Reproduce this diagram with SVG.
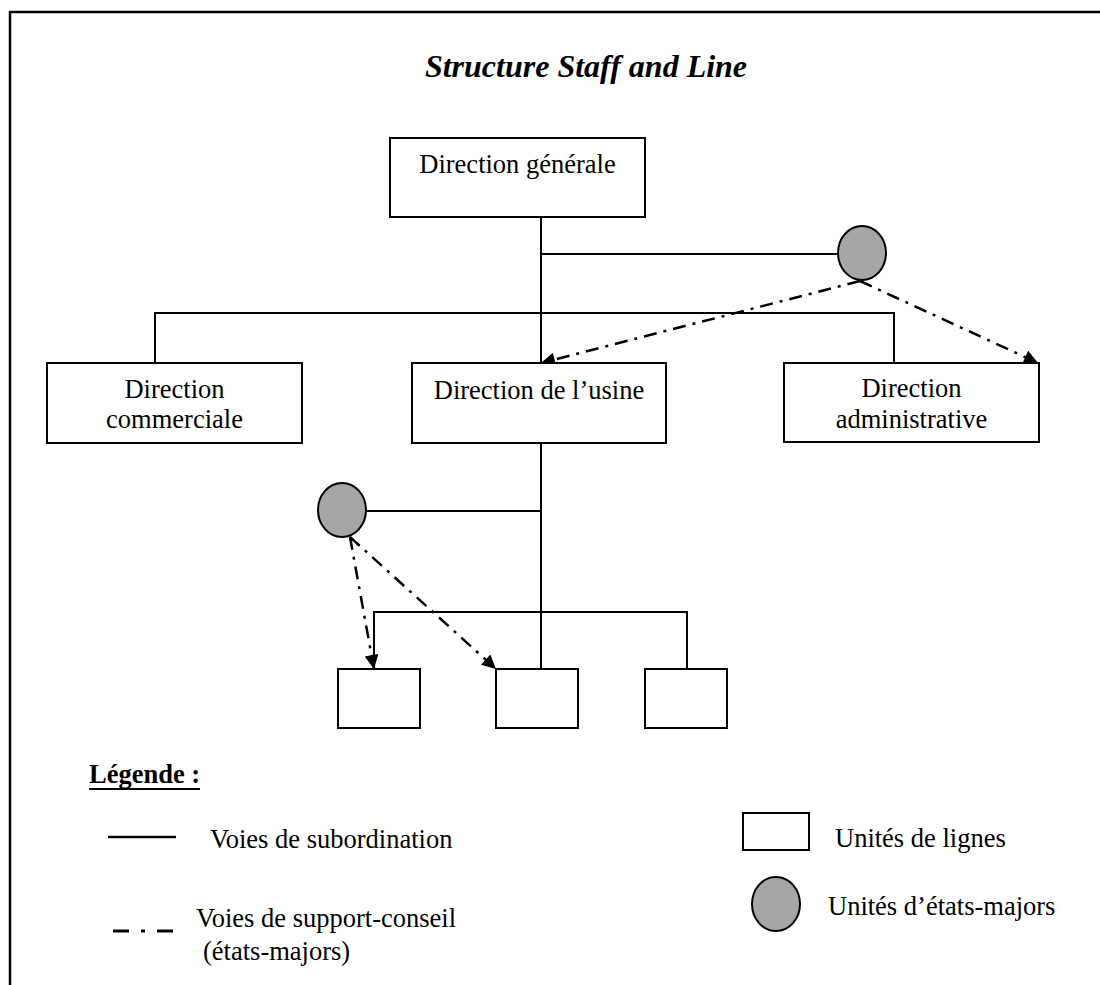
<svg xmlns="http://www.w3.org/2000/svg" width="1100" height="985" viewBox="0 0 1100 985">
<style>
.t{font-family:"Liberation Serif","Times New Roman",serif;font-size:26.5px;fill:#000}
.box{fill:#fff;stroke:#000;stroke-width:2}
.staff{fill:#a6a6a6;stroke:#000;stroke-width:2}
.sub{stroke:#000;stroke-width:2;fill:none}
.sup{stroke:#000;stroke-width:2.5;fill:none;stroke-dasharray:13 7 3 7}
</style>
<defs>
<marker id="ah" viewBox="0 0 10 10" refX="10" refY="5" markerWidth="18" markerHeight="14" markerUnits="userSpaceOnUse" orient="auto">
<path d="M0,0 L10,5 L0,10 z" fill="#000"/>
</marker>
</defs>
<rect width="1100" height="985" fill="#fff"/>
<g id="frame"><path d="M10,985 V12 H1100" fill="none" stroke="#000" stroke-width="2.5"/></g>
<text id="title" x="586" y="77" text-anchor="middle" class="t" style="font-weight:bold;font-style:italic;font-size:32px">Structure Staff and Line</text>
<g id="connectors">
<path class="sub" d="M541,217 V363"/>
<path class="sub" d="M541,254 H838"/>
<path class="sub" d="M155,363 V313 H894 V363"/>
<path class="sub" d="M541,443 V669"/>
<path class="sub" d="M366,511 H541"/>
<path class="sub" d="M374,669 V612 H687 V669"/>
<path class="sup" d="M860,281 L541,363" marker-end="url(#ah)"/>
<path class="sup" d="M860,281 L1038,363" marker-end="url(#ah)"/>
<path class="sup" d="M350,537 L374,669" marker-end="url(#ah)"/>
<path class="sup" d="M350,537 L496,669" marker-end="url(#ah)"/>
</g>
<g id="n-dg"><rect class="box" x="390" y="138" width="255" height="79"/><text class="t" x="517.5" y="173" text-anchor="middle">Direction générale</text></g>
<g id="n-staff1"><ellipse class="staff" cx="862" cy="253" rx="24" ry="27"/></g>
<g id="n-dc"><rect class="box" x="47" y="363" width="255" height="80"/><text class="t" x="174.5" y="398" text-anchor="middle">Direction</text><text class="t" x="174.5" y="428" text-anchor="middle">commerciale</text></g>
<g id="n-du"><rect class="box" x="412" y="363" width="254" height="80"/><text class="t" x="539" y="399" text-anchor="middle">Direction de l’usine</text></g>
<g id="n-da"><rect class="box" x="784" y="363" width="255" height="79"/><text class="t" x="911.5" y="397" text-anchor="middle">Direction</text><text class="t" x="911.5" y="428" text-anchor="middle">administrative</text></g>
<g id="n-staff2"><ellipse class="staff" cx="342" cy="510" rx="24" ry="27"/></g>
<g id="n-u1"><rect class="box" x="338" y="669" width="82" height="59"/></g>
<g id="n-u2"><rect class="box" x="496" y="669" width="82" height="59"/></g>
<g id="n-u3"><rect class="box" x="645" y="669" width="82" height="59"/></g>
<g id="legend">
<text class="t" x="89" y="783" style="font-weight:bold">Légende :</text>
<path d="M89,789 H200" stroke="#000" stroke-width="2"/>
<path d="M108,837 H176" stroke="#000" stroke-width="2.7"/>
<text class="t" x="210" y="848">Voies de subordination</text>
<path d="M113,931 H129 M141,931 H145 M157,931 H173" stroke="#000" stroke-width="3.2"/>
<text class="t" x="196" y="927">Voies de support-conseil</text>
<text class="t" x="203" y="960">(états-majors)</text>
<rect class="box" x="743" y="813" width="66" height="37"/>
<text class="t" x="835" y="847">Unités de lignes</text>
<ellipse class="staff" cx="776" cy="904" rx="24" ry="27"/>
<text class="t" x="828" y="915">Unités d’états-majors</text>
</g>
</svg>
